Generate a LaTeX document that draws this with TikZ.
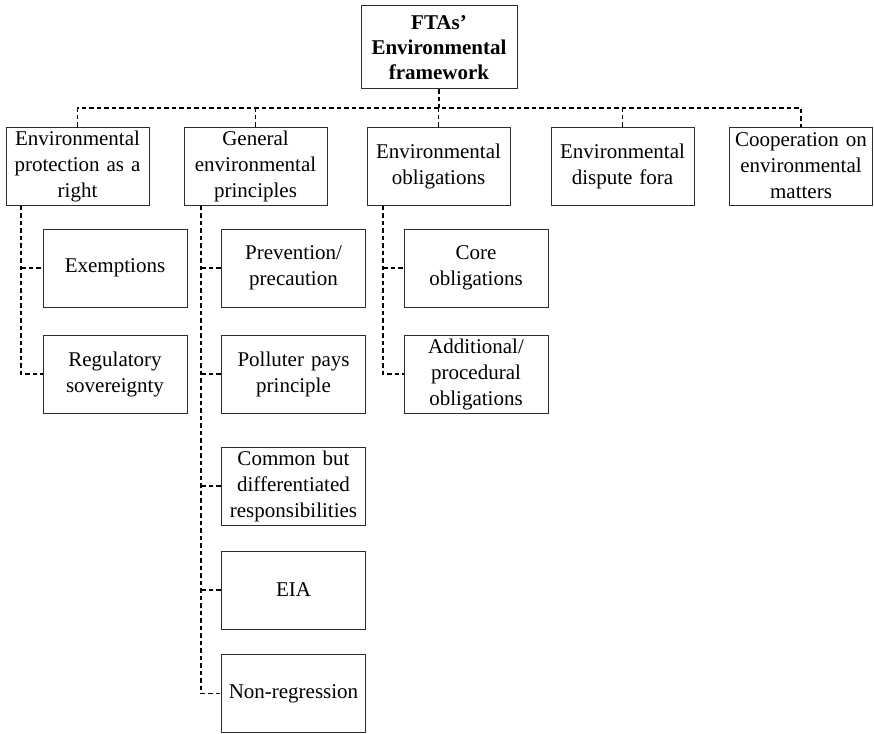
\documentclass[tikz,border=0pt]{standalone}
\usepackage{fontspec}
\setmainfont{Liberation Serif}
\usetikzlibrary{positioning, calc}

\definecolor{boxline}{RGB}{45, 45, 45}

\begin{document}
\begin{tikzpicture}[x=1pt, y=-1pt,
    box/.style={draw=boxline, line width=1pt, minimum width=143pt, minimum height=78pt,
      text width=140pt, align=center, inner sep=0pt, font=\fontsize{21}{26}\selectfont},
    topbox/.style={box, minimum width=156pt, minimum height=83pt, font=\fontsize{21}{25}\selectfont\bfseries},
    link/.style={line width=1.8pt, dash pattern=on 4.5pt off 3pt}]
  \useasboundingbox (0,0) rectangle (874,733);

  % Root
  \node[topbox] (root) at (439, 47.5) {FTAs'\\Environmental\\framework};

  % First level
  \node[box] (right) at (77.5, 166) {Environmental\\protection as a\\right};
  \node[box] (princ) at (255.5, 166) {General\\environmental\\principles};
  \node[box] (oblig) at (438.5, 166) {Environmental\\obligations};
  \node[box] (fora) at (622.5, 166) {Environmental\\dispute fora};
  \node[box] (coop) at (801, 166) {Cooperation on\\environmental\\matters};

  % Second level
  \node[box, minimum width=144pt] (exempt) at (115, 268) {Exemptions};
  \node[box, minimum width=144pt] (sover) at (115, 374) {Regulatory\\sovereignty};

  \node[box, minimum width=144pt] (prev) at (293.5, 268) {Prevention/\\precaution};
  \node[box, minimum width=144pt] (polpay) at (293.5, 374) {Polluter pays\\principle};
  \node[box, minimum width=144pt] (cbdr) at (293.5, 486) {Common but\\differentiated\\responsibilities};
  \node[box, minimum width=144pt] (eia) at (293.5, 590) {EIA};
  \node[box, minimum width=144pt] (nonreg) at (293.5, 693.5) {Non-regression};

  \node[box, minimum width=144pt] (core) at (476, 268) {Core\\obligations};
  \node[box, minimum width=144pt] (addit) at (476, 374) {Additional/\\procedural\\obligations};

  % Bus and spines
  \coordinate (bus) at (0, 108);
  \coordinate (sp1) at (21, 0);
  \coordinate (sp2) at (201, 0);
  \coordinate (sp3) at (383, 0);

  \draw[link] (root.south) -- (root.south |- bus);
  \draw[link] (right.north) |- (coop.north |- bus) -- (coop.north);
  \foreach \b in {princ, oblig, fora}
    \draw[link] (\b.north) -- (\b.north |- bus);

  \draw[link] (right.south -| sp1) |- (sover.west);
  \draw[link] (exempt.west -| sp1) -- (exempt.west);

  \draw[link] (princ.south -| sp2) |- (nonreg.west);
  \foreach \c in {prev, polpay, cbdr, eia}
    \draw[link] (\c.west -| sp2) -- (\c.west);

  \draw[link] (oblig.south -| sp3) |- (addit.west);
  \draw[link] (core.west -| sp3) -- (core.west);
\end{tikzpicture}
\end{document}
